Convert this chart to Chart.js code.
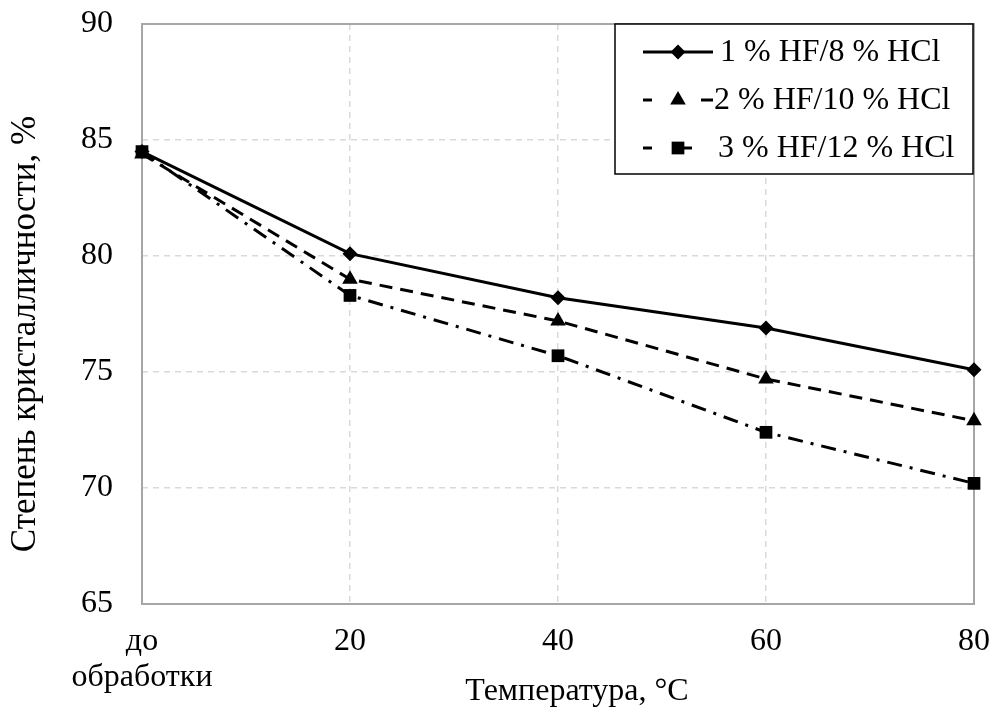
<!DOCTYPE html>
<html>
<head>
<meta charset="utf-8">
<script src="https://cdn.jsdelivr.net/npm/chart.js@4.4.1/dist/chart.umd.min.js"></script>
<style>
  html, body { margin: 0; padding: 0; background: #fff; }
  #wrap { width: 992px; height: 707px; }
</style>
</head>
<body>
<div id="wrap"><canvas id="c" width="992" height="707"></canvas></div>
<script>
// ---- data ----
const categories = [['до', 'обработки'], '20', '40', '60', '80'];
const seriesNames = ['1 % HF/8 % HCl', '2 % HF/10 % HCl', '3 % HF/12 % HCl'];
const series1 = [84.5, 80.1, 78.2, 76.9, 75.1];
const series2 = [84.4, 79.0, 77.2, 74.7, 72.9];
const series3 = [84.5, 78.3, 75.7, 72.4, 70.2];
const yMin = 65, yMax = 90, yStep = 5;
const xTitle = 'Температура, °C';
const yTitle = 'Степень кристалличности, %';

// ---- styles ----
const FONT = 'Liberation Serif, Times New Roman, serif';
const FS = 32;
const FS_YT = 35;
const styles = [
  { dash: [], point: 'rectRot', r: 7.5, legendSegs: [[643, 713]], tx: 720 },
  { dash: [13, 8], point: 'triangle', r: 9, legendSegs: [[643, 652], [701, 713]], tx: 714 },
  { dash: [15, 8, 3, 8], point: 'rect', r: 9, legendSegs: [[643, 652], [682, 692]], tx: 718 }
];
const seriesData = [series1, series2, series3];

const datasets = seriesData.map((d, i) => ({
  label: seriesNames[i],
  data: d,
  borderColor: '#000',
  backgroundColor: '#000',
  borderWidth: 3,
  borderDash: styles[i].dash,
  pointStyle: styles[i].point,
  pointRadius: styles[i].r,
  pointHoverRadius: styles[i].r,
  pointBackgroundColor: '#000',
  pointBorderColor: '#000',
  pointBorderWidth: 0,
  tension: 0,
  clip: false,
  fill: false
}));

function drawMarker(ctx, style, r, x, y) {
  ctx.beginPath();
  if (style === 'rectRot') {
    ctx.moveTo(x - r, y); ctx.lineTo(x, y - r); ctx.lineTo(x + r, y); ctx.lineTo(x, y + r);
  } else if (style === 'triangle') {
    for (let k = 0; k < 3; k++) {
      const a = k * 2 * Math.PI / 3;
      const px = x + Math.sin(a) * r, py = y - Math.cos(a) * r;
      if (k === 0) ctx.moveTo(px, py); else ctx.lineTo(px, py);
    }
  } else {
    const s = Math.SQRT1_2 * r;
    ctx.rect(x - s, y - s, 2 * s, 2 * s);
  }
  ctx.closePath();
  ctx.fillStyle = '#000';
  ctx.fill();
}

const framePlugin = {
  id: 'frame',
  beforeDatasetsDraw(chart) {
    const { ctx, chartArea: a } = chart;
    ctx.save();
    ctx.strokeStyle = '#a6a6a6';
    ctx.lineWidth = 2;
    ctx.setLineDash([]);
    ctx.strokeRect(a.left, a.top, a.right - a.left, a.bottom - a.top);
    ctx.restore();
  },
  afterDraw(chart) {
    const { ctx } = chart;
    ctx.save();
    // axis titles
    ctx.fillStyle = '#000';
    ctx.font = FS + 'px ' + FONT;
    ctx.textAlign = 'center';
    ctx.textBaseline = 'alphabetic';
    ctx.fillText(xTitle, 577, 700);
    ctx.save();
    ctx.translate(35, 334);
    ctx.rotate(-Math.PI / 2);
    ctx.font = FS_YT + 'px ' + FONT;
    ctx.fillText(yTitle, 0, 0);
    ctx.restore();

    // legend
    const bx = 615, by = 24, bw = 358, bh = 150;
    ctx.fillStyle = '#fff';
    ctx.fillRect(bx, by, bw, bh);
    ctx.strokeStyle = '#000';
    ctx.lineWidth = 1.5;
    ctx.setLineDash([]);
    ctx.strokeRect(bx, by, bw, bh);
    const rows = [52, 100, 148];
    rows.forEach((ry, i) => {
      ctx.strokeStyle = '#000';
      ctx.lineWidth = 3;
      ctx.setLineDash([]);
      styles[i].legendSegs.forEach(([x0, x1]) => {
        ctx.beginPath();
        ctx.moveTo(x0, ry);
        ctx.lineTo(x1, ry);
        ctx.stroke();
      });
      drawMarker(ctx, styles[i].point, styles[i].r, 678, ry);
      ctx.fillStyle = '#000';
      ctx.font = FS + 'px ' + FONT;
      ctx.textAlign = 'left';
      ctx.textBaseline = 'middle';
      ctx.fillText(seriesNames[i], styles[i].tx, ry + 1);
    });
    ctx.restore();
  }
};

function noScalePadding(s) {
  s.paddingTop = 0; s.paddingBottom = 0; s.paddingLeft = 0; s.paddingRight = 0;
}

new Chart(document.getElementById('c'), {
  type: 'line',
  data: { labels: categories, datasets },
  options: {
    responsive: false,
    animation: false,
    devicePixelRatio: 1,
    layout: { padding: { left: 0, top: 24, right: 18, bottom: 0 } },
    plugins: { legend: { display: false }, tooltip: { enabled: false }, title: { display: false } },
    scales: {
      x: {
        type: 'category',
        offset: false,
        grid: { color: '#d9d9d9', lineWidth: 1.5, drawTicks: false },
        border: { display: false, dash: [6, 5] },
        ticks: { color: '#000', font: { family: FONT, size: FS, lineHeight: 1.12 }, padding: 20, maxRotation: 0, autoSkip: false },
        afterFit(s) { s.height = 707 - 604; noScalePadding(s); }
      },
      y: {
        min: yMin, max: yMax,
        grid: { color: '#d9d9d9', lineWidth: 1.5, drawTicks: false },
        border: { display: false, dash: [6, 5] },
        ticks: { stepSize: yStep, color: '#000', font: { family: FONT, size: FS }, padding: 29 },
        afterFit(s) { s.width = 142; noScalePadding(s); }
      }
    }
  },
  plugins: [framePlugin]
});
</script>
</body>
</html>
